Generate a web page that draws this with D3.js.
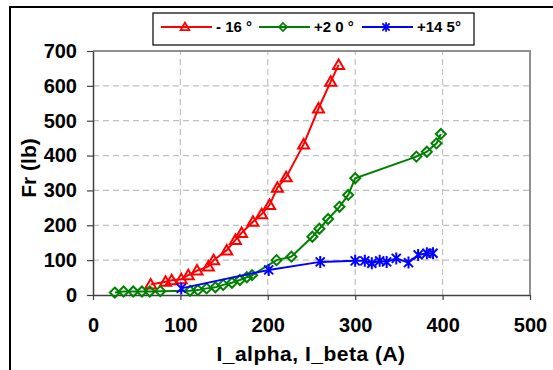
<!DOCTYPE html>
<html>
<head>
<meta charset="utf-8">
<script src="https://cdn.jsdelivr.net/npm/d3@7"></script>
<style>
  body { margin: 0; background: #fff; }
  text { font-family: Arial, "Liberation Sans", sans-serif; font-weight: bold; }
</style>
</head>
<body>
<div id="chart"></div>
<script>
// -16 deg series (I, Fr)
var red = [
    [66, 30], [83, 38], [90, 42], [101, 45], [109, 57], [119, 70], [132, 82],
    [138, 100], [153, 128], [163, 158], [170, 178], [183, 210], [193, 232],
    [202, 258], [211, 308], [221, 338], [241, 432], [258, 535], [272, 612], [281, 660]
];
// +20 deg series
var green = [
    [25, 7], [35, 10], [46, 10], [56, 10], [65, 10], [77, 11], [111, 12],
    [120, 14], [130, 19], [140, 22], [149, 29], [159, 35], [168, 43], [176, 51],
    [182, 57], [210, 100], [227, 110], [251, 167], [259, 190], [269, 218],
    [282, 253], [292, 287], [300, 335], [370, 397], [382, 411],
    [393, 435], [398, 462]
];
// +145 deg series
var blue = [
    [101, 19], [201, 72], [260, 95], [300, 98], [311, 98], [319, 91], [328, 98],
    [336, 95], [347, 105], [361, 93], [372, 115], [382, 120], [389, 120]
];

var seriesNames = ["- 16 °", "+2 0 °", "+14 5°"];
var xTicks = [0, 100, 200, 300, 400, 500];
var yTicks = [0, 100, 200, 300, 400, 500, 600, 700];

var width = 553;
var height = 370;

var svg = d3.select("#chart")
    .append("svg")
    .attr("width", width)
    .attr("height", height);

// outer chart border (right / bottom edges fall outside the picture)
svg.append("rect")
    .attr("x", 10)
    .attr("y", 7)
    .attr("width", 620)
    .attr("height", 420)
    .attr("fill", "none")
    .attr("stroke", "#000")
    .attr("stroke-width", 2);

var x = d3.scaleLinear().domain([0, 500]).range([93, 530]);
var y = d3.scaleLinear().domain([0, 700]).range([295, 51]);

// dashed grid
svg.selectAll("line.hgrid")
    .data(yTicks.slice(1, -1))
    .enter()
    .append("line")
    .attr("class", "hgrid")
    .attr("x1", x(0))
    .attr("x2", x(500))
    .attr("y1", function(d) { return y(d); })
    .attr("y2", function(d) { return y(d); })
    .attr("stroke", "#c0c0c0")
    .attr("stroke-width", 1.2)
    .attr("stroke-dasharray", "6,4");

svg.selectAll("line.vgrid")
    .data(xTicks.slice(1, -1))
    .enter()
    .append("line")
    .attr("class", "vgrid")
    .attr("y1", y(0))
    .attr("y2", y(700))
    .attr("x1", function(d) { return x(d); })
    .attr("x2", function(d) { return x(d); })
    .attr("stroke", "#c0c0c0")
    .attr("stroke-width", 1.2)
    .attr("stroke-dasharray", "6,4");

// plot area border top / right
svg.append("path")
    .attr("d", "M" + x(0) + "," + y(700) + "H" + x(500) + "V" + y(0))
    .attr("fill", "none")
    .attr("stroke", "#909090")
    .attr("stroke-width", 2);

// axes
var xAxis = svg.append("g")
    .attr("transform", "translate(0," + y(0) + ")")
    .call(d3.axisBottom(x).tickValues(xTicks).tickSize(5).tickSizeOuter(0).tickPadding(18));

var yAxis = svg.append("g")
    .attr("transform", "translate(" + x(0) + ",0)")
    .call(d3.axisLeft(y).tickValues(yTicks).tickSize(6).tickSizeOuter(0).tickPadding(10));

[xAxis, yAxis].forEach(function(g) {
    g.attr("font-family", null).attr("font-size", null);
    g.select(".domain").attr("stroke", "#404040").attr("stroke-width", 1.5);
    g.selectAll(".tick line").attr("stroke", "#404040").attr("stroke-width", 1.2);
    g.selectAll(".tick text")
        .attr("fill", "#000")
        .style("font-size", "20px");
});

// axis titles
svg.append("text")
    .text("I_alpha, I_beta (A)")
    .attr("x", 311)
    .attr("y", 361)
    .attr("text-anchor", "middle")
    .style("font-size", "21px")
    .style("letter-spacing", "0.5px");

svg.append("text")
    .text("Fr (lb)")
    .attr("transform", "translate(36,168) rotate(-90)")
    .attr("text-anchor", "middle")
    .style("font-size", "21px");

// markers
var triPath = "M0,-5.5L5.5,4L-5.5,4Z";
var diaPath = "M0,-5L5,0L0,5L-5,0Z";
var starPath = "M-4.5,-4.5L4.5,4.5M-4.5,4.5L4.5,-4.5M0,-6L0,6";

var series = [
    { data: red, color: "#ff0000", marker: triPath },
    { data: green, color: "#008000", marker: diaPath },
    { data: blue, color: "#0000ff", marker: starPath }
];

var line = d3.line()
    .x(function(d) { return x(d[0]); })
    .y(function(d) { return y(d[1]); });

series.forEach(function(s) {
    svg.append("path")
        .datum(s.data)
        .attr("d", line)
        .attr("fill", "none")
        .attr("stroke", s.color)
        .attr("stroke-width", 2);

    svg.selectAll(null)
        .data(s.data)
        .enter()
        .append("path")
        .attr("d", s.marker)
        .attr("transform", function(d) {
            return "translate(" + x(d[0]) + "," + y(d[1]) + ")";
        })
        .attr("fill", "none")
        .attr("stroke", s.color)
        .attr("stroke-width", 2);
});

// legend
var legend = svg.append("g");
legend.append("rect")
    .attr("x", 153)
    .attr("y", 13)
    .attr("width", 321)
    .attr("height", 32)
    .attr("fill", "#fff")
    .attr("stroke", "#000")
    .attr("stroke-width", 1.2);

var legendX = [161, 259, 362];
series.forEach(function(s, i) {
    var lx = legendX[i];
    legend.append("line")
        .attr("x1", lx)
        .attr("x2", lx + 51)
        .attr("y1", 27)
        .attr("y2", 27)
        .attr("stroke", s.color)
        .attr("stroke-width", 2);
    legend.append("path")
        .attr("d", s.marker)
        .attr("transform", "translate(" + (lx + 24) + ",27) scale(0.8)")
        .attr("fill", "none")
        .attr("stroke", s.color)
        .attr("stroke-width", 2.2);
    legend.append("text")
        .text(seriesNames[i])
        .attr("x", lx + 55)
        .attr("y", 32)
        .style("font-size", "15px");
});
</script>
</body>
</html>
